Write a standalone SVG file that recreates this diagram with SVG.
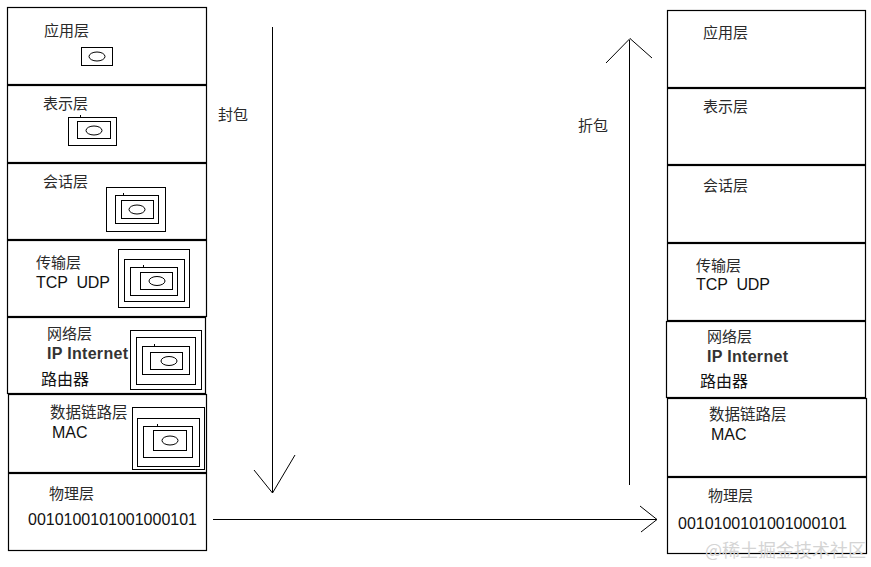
<svg xmlns="http://www.w3.org/2000/svg" width="871" height="567" viewBox="0 0 871 567">
<style>
.row{fill:#fff;stroke:#000;stroke-width:1.2}
.bx{fill:none;stroke:#000;stroke-width:1}
.cn{font-family:"Noto Sans CJK SC","Liberation Sans",sans-serif;font-size:15px;fill:#2a2a2a}
.lt{font-family:"Liberation Sans","Noto Sans CJK SC",sans-serif;font-size:16px;fill:#111}
.ip{font-family:"Liberation Sans",sans-serif;font-size:16px;font-weight:bold;fill:#333}
.ln{fill:none;stroke:#000;stroke-width:1}
.wm{font-family:"Noto Sans CJK SC",sans-serif;font-size:18px;fill:#d4d4d4}
</style>
<rect width="871" height="567" fill="#fff"/>
<g id="left-stack">
<g id="L1"><rect class="row" x="7.5" y="7.5" width="199" height="77"/><text class="cn" x="44" y="36">应用层</text>
<rect class="bx" x="81.5" y="47.5" width="31" height="18"/><ellipse class="bx" cx="97" cy="56.5" rx="8" ry="4.5"/></g>
<g id="L2"><rect class="row" x="7.5" y="85.5" width="199" height="77"/><text class="cn" x="43" y="109">表示层</text>
<rect class="bx" x="68.5" y="117.5" width="48" height="28"/><rect class="bx" x="77.5" y="121.5" width="33" height="17"/><ellipse class="bx" cx="94" cy="130.5" rx="8" ry="4.5"/><line class="ln" x1="80.5" y1="115" x2="80.5" y2="117"/></g>
<g id="L3"><rect class="row" x="7.5" y="163.5" width="199" height="76"/><text class="cn" x="43" y="187">会话层</text>
<rect class="bx" x="106.5" y="187.5" width="59" height="44"/><rect class="bx" x="115.5" y="195.5" width="43" height="28"/><rect class="bx" x="121.5" y="200.5" width="32" height="18"/><ellipse class="bx" cx="137" cy="209.5" rx="8" ry="4.5"/><line class="ln" x1="123.5" y1="193" x2="123.5" y2="195"/></g>
<g id="L4"><rect class="row" x="7.5" y="240.5" width="199" height="76"/><text class="cn" x="36" y="268">传输层</text><text class="lt" x="36" y="288" textLength="74">TCP&#160; UDP</text>
<rect class="bx" x="118.5" y="249.5" width="71" height="58"/><rect class="bx" x="124.5" y="259.5" width="60" height="42"/><rect class="bx" x="130.5" y="267.5" width="47" height="28"/><rect class="bx" x="140.5" y="272.5" width="32" height="17"/><ellipse class="bx" cx="157" cy="281" rx="8" ry="4.5"/><line class="ln" x1="143.5" y1="265" x2="143.5" y2="267"/></g>
<g id="L5"><rect class="row" x="7.5" y="317.5" width="198" height="76"/><text class="cn" x="47" y="339">网络层</text><text class="ip" x="47" y="359" textLength="81">IP Internet</text><text class="cn" x="41" y="385" style="font-size:16px;fill:#111">路由器</text>
<rect class="bx" x="130.5" y="330.5" width="71" height="59"/><rect class="bx" x="136.5" y="337.5" width="59" height="47"/><rect class="bx" x="142.5" y="346.5" width="47" height="28"/><rect class="bx" x="150.5" y="352.5" width="32" height="17"/><ellipse class="bx" cx="169" cy="361" rx="8" ry="4.5"/><line class="ln" x1="154.5" y1="344" x2="154.5" y2="346"/></g>
<g id="L6"><rect class="row" x="8.5" y="394.5" width="198" height="78"/><text class="cn" x="50" y="418" style="font-size:15.5px">数据链路层</text><text class="lt" x="52" y="438">MAC</text>
<rect class="bx" x="132.5" y="407.5" width="72" height="62"/><rect class="bx" x="137.5" y="418.5" width="62" height="48"/><rect class="bx" x="143.5" y="426.5" width="49" height="31"/><rect class="bx" x="153.5" y="430.5" width="33" height="20"/><ellipse class="bx" cx="170" cy="440.5" rx="8" ry="4.5"/><line class="ln" x1="157.5" y1="424" x2="157.5" y2="426"/></g>
<g id="L7"><rect class="row" x="8.5" y="473.5" width="198" height="77"/><text class="cn" x="49" y="499">物理层</text><text class="lt" x="28" y="525" textLength="169">0010100101001000101</text></g>
</g>
<g id="right-stack">
<g id="R1"><rect class="row" x="667.5" y="10.5" width="198" height="77"/><text class="cn" x="703" y="38">应用层</text></g>
<g id="R2"><rect class="row" x="667.5" y="88.5" width="198" height="76"/><text class="cn" x="703" y="112">表示层</text></g>
<g id="R3"><rect class="row" x="667.5" y="165.5" width="198" height="77"/><text class="cn" x="703" y="191">会话层</text></g>
<g id="R4"><rect class="row" x="667.5" y="243.5" width="198" height="77"/><text class="cn" x="696" y="271">传输层</text><text class="lt" x="696" y="290" textLength="74">TCP&#160; UDP</text></g>
<g id="R5"><rect class="row" x="666.5" y="321.5" width="199" height="76"/><text class="cn" x="707" y="342">网络层</text><text class="ip" x="707" y="362" textLength="81">IP Internet</text><text class="cn" x="700" y="387" style="font-size:16px;fill:#111">路由器</text></g>
<g id="R6"><rect class="row" x="667.5" y="398.5" width="199" height="78"/><text class="cn" x="709" y="420" style="font-size:15.5px">数据链路层</text><text class="lt" x="711" y="440">MAC</text></g>
<g id="R7"><rect class="row" x="667.5" y="477.5" width="199" height="76"/><text class="cn" x="708" y="501">物理层</text><text class="lt" x="678" y="529" textLength="169">0010100101001000101</text></g>
</g>
<g id="connectors">
<line class="ln" x1="272.5" y1="27" x2="272.5" y2="493"/>
<polyline class="ln" points="254,470 272.5,493 295,455"/>
<text class="cn" x="218" y="120">封包</text>
<line class="ln" x1="629.5" y1="485" x2="629.5" y2="40"/>
<polyline class="ln" points="606,63 630,38.5 652,58"/>
<text class="cn" x="578" y="131">折包</text>
<line class="ln" x1="213" y1="519.5" x2="657" y2="519.5"/>
<polyline class="ln" points="640,506 657,519.5 641,532"/>
</g>
<text class="wm" x="705" y="557">@稀土掘金技术社区</text>
</svg>
